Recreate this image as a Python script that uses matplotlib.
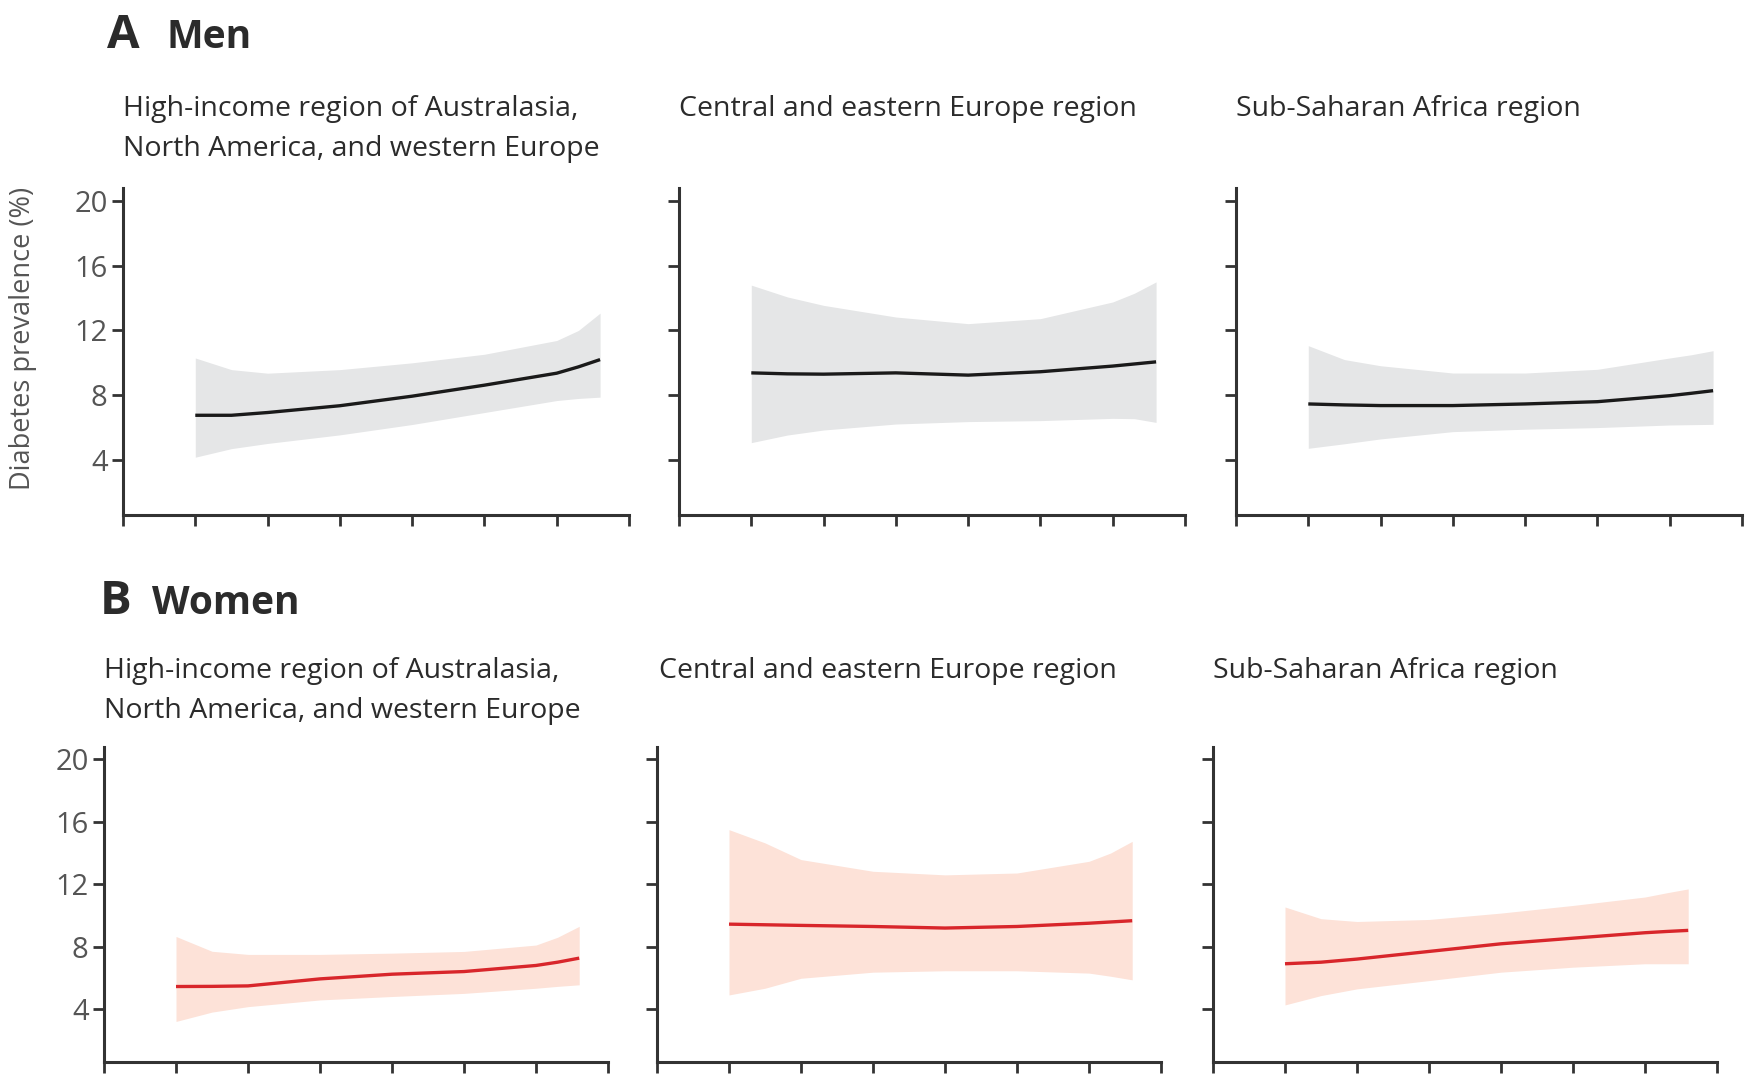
import numpy as np
import matplotlib
matplotlib.use("Agg")
import matplotlib.pyplot as plt

plt.rcParams['font.family'] = ['Open Sans', 'DejaVu Sans']

W, H = 1757, 1077

# x positions (axis units, 0..7 ticks; labels cropped in the original)
xs = [1, 1.5, 2, 3, 4, 5, 6, 6.3, 6.6]

# Men
men_hi_mid = [6.76, 6.76, 6.93, 7.35, 7.94, 8.62, 9.36, 9.75, 10.2]
men_hi_up = [10.3, 9.58, 9.36, 9.58, 10.0, 10.53, 11.38, 12.0, 13.07]
men_hi_lo = [4.17, 4.7, 5.02, 5.55, 6.19, 6.93, 7.67, 7.8, 7.88]

men_cee_mid = [9.38, 9.32, 9.3, 9.38, 9.24, 9.45, 9.8, 9.93, 10.06]
men_cee_up = [14.8, 14.07, 13.55, 12.83, 12.42, 12.73, 13.76, 14.3, 15.0]
men_cee_lo = [5.07, 5.54, 5.85, 6.22, 6.37, 6.43, 6.57, 6.55, 6.32]

men_ssa_mid = [7.46, 7.4, 7.36, 7.36, 7.46, 7.6, 7.97, 8.12, 8.28]
men_ssa_up = [11.06, 10.2, 9.82, 9.37, 9.37, 9.6, 10.3, 10.5, 10.75]
men_ssa_lo = [4.72, 5.0, 5.3, 5.75, 5.9, 6.0, 6.16, 6.18, 6.2]

# Women
wom_hi_mid = [5.44, 5.45, 5.48, 5.93, 6.23, 6.4, 6.79, 7.0, 7.26]
wom_hi_up = [8.65, 7.7, 7.5, 7.5, 7.58, 7.69, 8.1, 8.6, 9.3]
wom_hi_lo = [3.2, 3.8, 4.15, 4.58, 4.8, 5.0, 5.33, 5.45, 5.55]

wom_cee_mid = [9.44, 9.4, 9.36, 9.29, 9.19, 9.29, 9.5, 9.58, 9.66]
wom_cee_up = [15.5, 14.65, 13.58, 12.83, 12.6, 12.72, 13.47, 14.0, 14.75]
wom_cee_lo = [4.9, 5.33, 5.97, 6.36, 6.45, 6.45, 6.3, 6.1, 5.87]

wom_ssa_mid = [6.9, 7.0, 7.2, 7.69, 8.18, 8.54, 8.89, 8.97, 9.04]
wom_ssa_up = [10.54, 9.79, 9.61, 9.74, 10.15, 10.64, 11.18, 11.45, 11.7]
wom_ssa_lo = [4.26, 4.86, 5.29, 5.82, 6.36, 6.68, 6.9, 6.9, 6.9]

region_titles = ["High-income region of Australasia,\nNorth America, and western Europe",
                 "Central and eastern Europe region",
                 "Sub-Saharan Africa region"]
y_ticks = [4, 8, 12, 16, 20]

men = [(men_hi_mid, men_hi_up, men_hi_lo),
       (men_cee_mid, men_cee_up, men_cee_lo),
       (men_ssa_mid, men_ssa_up, men_ssa_lo)]
women = [(wom_hi_mid, wom_hi_up, wom_hi_lo),
         (wom_cee_mid, wom_cee_up, wom_cee_lo),
         (wom_ssa_mid, wom_ssa_up, wom_ssa_lo)]

AXIS_COL = "#333333"
TXT_COL = "#2b2b2b"


def px(x, y):
    return x / W, 1 - y / H


def setup_axis(ax):
    for s in ["top", "right"]:
        ax.spines[s].set_visible(False)
    for s in ["left", "bottom"]:
        ax.spines[s].set_color(AXIS_COL)
        ax.spines[s].set_linewidth(2.2)
    ax.set_xlim(0, 7)
    ax.set_ylim(0.6, 20.8)
    ax.set_xticks(range(8))
    ax.set_xticklabels([])
    ax.set_yticks(y_ticks)
    ax.tick_params(direction="out", length=8, width=2, color=AXIS_COL,
                   labelsize=21, labelcolor="#555555", pad=3)
    ax.patch.set_alpha(0)


fig = plt.figure(figsize=(W / 100, H / 100), dpi=100)

# row geometry in pixels: (lefts, width, top, bottom)
rows = [
    ([123, 679, 1236], 506, 188, 515, men, "#e5e6e7", "#1a1a1a"),
    ([104, 657, 1213], 504, 747, 1062, women, "#fde2d8", "#d8262b"),
]

axes = []
for r, (lefts, wid, top, bot, data, band_col, line_col) in enumerate(rows):
    for i, left in enumerate(lefts):
        ax = fig.add_axes([left / W, 1 - bot / H, wid / W, (bot - top) / H])
        setup_axis(ax)
        mid, up, lo = data[i]
        ax.fill_between(xs, lo, up, color=band_col, lw=0)
        ax.plot(xs, mid, color=line_col, lw=2.4, solid_capstyle="butt")
        if i > 0:
            ax.set_yticklabels([])
        axes.append(ax)

axes[0].set_ylabel("Diabetes prevalence (%)", fontsize=19.5, color="#555555")
axes[0].yaxis.set_label_coords(-0.17, 0.54)

# panel headings
fig.text(*px(107, 36), "A", fontsize=34, fontweight="bold", color=TXT_COL, va="center")
fig.text(*px(166, 38), "Men", fontsize=28, fontweight="bold", color=TXT_COL, va="center")
fig.text(*px(100, 602), "B", fontsize=34, fontweight="bold", color=TXT_COL, va="center")
fig.text(*px(152, 604), "Women", fontsize=28, fontweight="bold", color=TXT_COL, va="center")

# region subtitles
sub_a = [(123, 95), (679, 95), (1236, 95)]
sub_b = [(104, 657), (659, 657), (1213, 657)]
for (x, y), t in zip(sub_a, region_titles):
    fig.text(*px(x, y), t, fontsize=20.5, color=TXT_COL, va="top", linespacing=1.55)
for (x, y), t in zip(sub_b, region_titles):
    fig.text(*px(x, y), t, fontsize=20.5, color=TXT_COL, va="top", linespacing=1.55)

fig.savefig("out.png", dpi=100, facecolor="white")
